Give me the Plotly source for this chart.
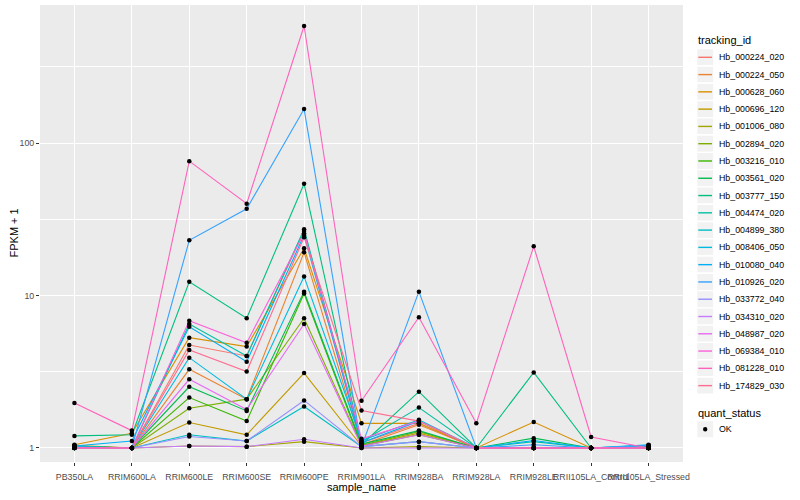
import plotly.graph_objects as go

samples = ["PB350LA", "RRIM600LA", "RRIM600LE", "RRIM600SE", "RRIM600PE", "RRIM901LA",
           "RRIM928BA", "RRIM928LA", "RRIM928LE", "RRII105LA_Control", "RRII105LA_Stressed"]

tracking_ids = ["Hb_000224_020", "Hb_000224_050", "Hb_000628_060", "Hb_000696_120",
                "Hb_001006_080", "Hb_002894_020", "Hb_003216_010", "Hb_003561_020",
                "Hb_003777_150", "Hb_004474_020", "Hb_004899_380", "Hb_008406_050",
                "Hb_010080_040", "Hb_010926_020", "Hb_033772_040", "Hb_034310_020",
                "Hb_048987_020", "Hb_069384_010", "Hb_081228_010", "Hb_174829_030"]

colors = ["#F8766D", "#EA8331", "#D89000", "#C09B00", "#A3A500", "#7CAE00", "#39B600",
          "#00BB4E", "#00BF7D", "#00C1A3", "#00BFC4", "#00BAE0", "#00B0F6", "#35A2FF",
          "#9590FF", "#C77CFF", "#E76BF3", "#FA62DB", "#FF62BC", "#FF6C91"]

# FPKM + 1 values, one list per tracking id (in sample order)
v_000224_020 = [1.02, 1.00, 4.73, 4.01, 26.5, 1.08, 1.45, 1.00, 1.00, 1.00, 1.00]
v_000224_050 = [1.03, 1.00, 3.28, 2.09, 19.2, 1.05, 1.42, 1.00, 1.00, 1.00, 1.00]
v_000628_060 = [1.05, 1.25, 5.29, 4.62, 20.4, 1.45, 1.45, 1.00, 1.48, 1.00, 1.00]
v_000696_120 = [1.04, 1.00, 1.47, 1.22, 3.10, 1.03, 1.25, 1.00, 1.00, 1.00, 1.00]
v_001006_080 = [1.00, 1.00, 1.03, 1.02, 1.10, 1.00, 1.02, 1.00, 1.00, 1.00, 1.00]
v_002894_020 = [1.02, 1.00, 1.82, 2.09, 7.09, 1.04, 1.28, 1.00, 1.00, 1.00, 1.00]
v_003216_010 = [1.01, 1.00, 2.14, 1.50, 10.3, 1.03, 1.22, 1.00, 1.00, 1.00, 1.00]
v_003561_020 = [1.02, 1.00, 2.52, 1.75, 10.6, 1.06, 1.30, 1.00, 1.16, 1.00, 1.00]
v_003777_150 = [1.20, 1.22, 12.3, 7.10, 54.0, 1.05, 2.34, 1.00, 3.13, 1.00, 1.00]
v_004474_020 = [1.03, 1.00, 6.50, 4.01, 27.2, 1.10, 1.84, 1.00, 1.10, 1.00, 1.02]
v_004899_380 = [1.00, 1.00, 1.22, 1.11, 1.87, 1.02, 1.10, 1.00, 1.00, 1.00, 1.00]
v_008406_050 = [1.02, 1.00, 3.91, 2.09, 13.3, 1.12, 1.53, 1.00, 1.00, 1.00, 1.04]
v_010080_040 = [1.03, 1.11, 6.24, 3.68, 24.9, 1.08, 1.50, 1.00, 1.12, 1.00, 1.05]
v_010926_020 = [1.00, 1.00, 23.0, 37.0, 167.0, 1.02, 10.6, 1.00, 1.05, 1.00, 1.04]
v_033772_040 = [1.00, 1.00, 1.19, 1.11, 2.05, 1.02, 1.10, 1.00, 1.00, 1.00, 1.00]
v_034310_020 = [1.00, 1.00, 1.03, 1.02, 1.14, 1.00, 1.00, 1.00, 1.00, 1.00, 1.00]
v_048987_020 = [1.01, 1.00, 2.82, 1.79, 6.50, 1.03, 1.22, 1.00, 1.00, 1.00, 1.00]
v_069384_010 = [1.00, 1.00, 6.84, 4.90, 25.6, 1.15, 1.50, 1.00, 1.00, 1.00, 1.00]
v_081228_010 = [1.97, 1.30, 76.0, 40.0, 585.0, 2.04, 7.20, 1.45, 21.0, 1.18, 1.00]
v_174829_030 = [1.00, 1.00, 4.39, 3.17, 24.1, 1.76, 1.50, 1.00, 1.00, 1.00, 1.00]

series = [v_000224_020, v_000224_050, v_000628_060, v_000696_120, v_001006_080,
          v_002894_020, v_003216_010, v_003561_020, v_003777_150, v_004474_020,
          v_004899_380, v_008406_050, v_010080_040, v_010926_020, v_033772_040,
          v_034310_020, v_048987_020, v_069384_010, v_081228_010, v_174829_030]

y_ticks = [1, 10, 100]
y_ticktext = ["1", "10", "100"]
y_minor = [10 ** 0.5, 10 ** 1.5, 10 ** 2.5]

W, H = 800, 500
L, R, T, B = 40, 117, 5, 38
PW, PH = W - L - R, H - T - B


def px(x):
    return (x - L) / PW


def py(y):
    return (H - B - y) / PH


fig = go.Figure()
for name, col, vals in zip(tracking_ids, colors, series):
    fig.add_trace(go.Scatter(x=samples, y=vals, mode="lines", name=name,
                             line=dict(color=col, width=1.1), showlegend=False,
                             hoverinfo="skip"))

all_x, all_y = [], []
for vals in series:
    all_x.extend(samples)
    all_y.extend(vals)
fig.add_trace(go.Scatter(x=all_x, y=all_y, mode="markers", name="OK",
                         marker=dict(color="black", size=4.5), showlegend=False))

shapes = []
annotations = []
font = "Liberation Sans, Arial, Helvetica, sans-serif"

# legend: tracking_id
annotations.append(dict(x=px(696), y=py(40), xref="paper", yref="paper", text="tracking_id",
                        showarrow=False, xanchor="left", yanchor="middle",
                        font=dict(size=11, color="black", family=font)))
step = 17.28
y0 = 57.3
for i, (name, col) in enumerate(zip(tracking_ids, colors)):
    cy = y0 + i * step
    shapes.append(dict(type="rect", xref="paper", yref="paper",
                       x0=px(696.6), x1=px(696.6 + step), y0=py(cy - step / 2), y1=py(cy + step / 2),
                       fillcolor="#F2F2F2", line=dict(color="white", width=1.4), layer="above"))
    shapes.append(dict(type="line", xref="paper", yref="paper",
                       x0=px(698.3), x1=px(712), y0=py(cy), y1=py(cy),
                       line=dict(color=col, width=1.4), layer="above"))
    annotations.append(dict(x=px(716.5), y=py(cy), xref="paper", yref="paper", text=name,
                            showarrow=False, xanchor="left", yanchor="middle",
                            font=dict(size=8.8, color="black", family=font)))

# legend: quant_status
annotations.append(dict(x=px(696), y=py(412.7), xref="paper", yref="paper", text="quant_status",
                        showarrow=False, xanchor="left", yanchor="middle",
                        font=dict(size=11, color="black", family=font)))
cy = 429.3
shapes.append(dict(type="rect", xref="paper", yref="paper",
                   x0=px(696.6), x1=px(696.6 + step), y0=py(cy - step / 2), y1=py(cy + step / 2),
                   fillcolor="#F2F2F2", line=dict(color="white", width=1.4), layer="above"))
shapes.append(dict(type="circle", xref="paper", yref="paper",
                   x0=px(705.2 - 2.2), x1=px(705.2 + 2.2), y0=py(cy - 2.2), y1=py(cy + 2.2),
                   fillcolor="black", line=dict(color="black", width=0), layer="above"))
annotations.append(dict(x=px(716.5), y=py(cy), xref="paper", yref="paper", text="OK",
                        showarrow=False, xanchor="left", yanchor="middle",
                        font=dict(size=8.8, color="black", family=font)))

# axis titles
annotations.append(dict(x=0.5, y=py(487), xref="paper", yref="paper", text="sample_name",
                        showarrow=False, xanchor="center", yanchor="middle",
                        font=dict(size=11, color="black", family=font)))
annotations.append(dict(x=px(13), y=0.5, xref="paper", yref="paper", text="FPKM + 1",
                        showarrow=False, xanchor="center", yanchor="middle", textangle=-90,
                        font=dict(size=11, color="black", family=font)))

fig.update_layout(
    width=W, height=H,
    margin=dict(l=L, r=R, t=T, b=B, pad=0),
    paper_bgcolor="white", plot_bgcolor="#EBEBEB",
    showlegend=False,
    font=dict(family=font),
    shapes=shapes, annotations=annotations,
    xaxis=dict(type="category", categoryorder="array", categoryarray=samples,
               range=[-0.6, len(samples) - 0.4], showgrid=True, gridcolor="white", gridwidth=1.2,
               zeroline=False, showline=False, ticks="outside", ticklen=3, tickwidth=1,
               tickcolor="#333333", tickangle=0, ticklabelstandoff=3,
               tickfont=dict(size=8.8, color="#4D4D4D", family=font)),
    yaxis=dict(type="log", range=[-0.092, 2.905], tickmode="array", tickvals=y_ticks,
               ticktext=y_ticktext, showgrid=True, gridcolor="white", gridwidth=1.2,
               zeroline=False, showline=False, ticks="outside", ticklen=3, tickwidth=1,
               tickcolor="#333333",
               tickfont=dict(size=8.8, color="#4D4D4D", family=font),
               minor=dict(tickmode="array", tickvals=y_minor, showgrid=True,
                          gridcolor="white", gridwidth=0.6, ticks="")),
)

fig.write_html("out.html", config={"displayModeBar": False},
               post_script="document.body.style.margin='0';document.body.style.padding='0';")
